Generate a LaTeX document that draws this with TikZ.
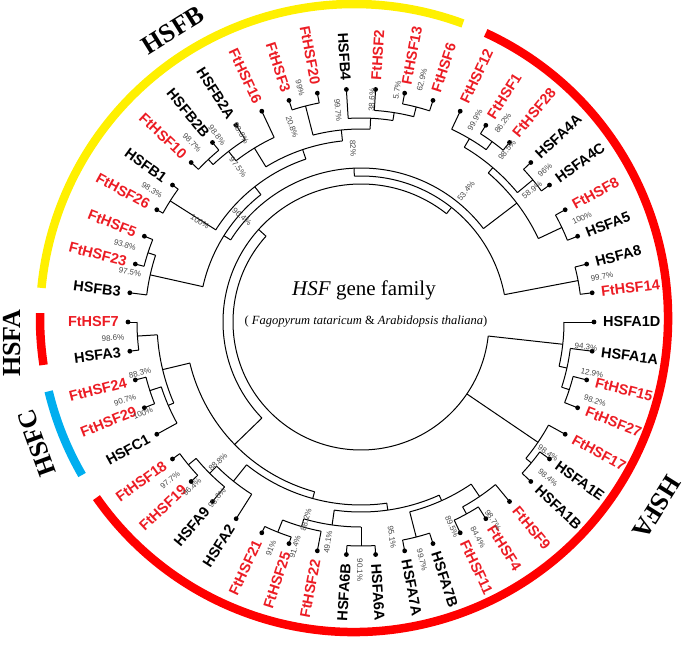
\documentclass[tikz,border=0pt]{standalone}
\usepackage{fontspec}
\setmainfont{Liberation Serif}
\newfontfamily\lsans{Liberation Sans}
\definecolor{ftred}{RGB}{236,28,36}
\definecolor{arcred}{RGB}{255,0,0}
\definecolor{arcyellow}{RGB}{255,240,0}
\definecolor{arcblue}{RGB}{0,174,239}
\tikzset{
  leaflab/.style={font=\lsans\bfseries\fontsize{14.5}{14.5}\selectfont, inner sep=1pt},
  bslab/.style={font=\lsans\fontsize{8}{8}\selectfont, text=black!72, inner sep=0pt},
  grplab/.style={font=\bfseries\fontsize{26}{26}\selectfont, inner sep=0pt},
  br/.style={line width=1pt, black},
  band/.style={line width=8.5pt},
}
% leaf: angle, parent radius, name, colour
\newcommand\lf[4]{%
  \draw[br] (#1:#2pt) -- (#1:233pt);
  \fill (#1:233pt) circle (2.4pt);
  \pgfmathsetmacro\myang{#1}%
  \ifdim\myang pt>90pt
    \ifdim\myang pt<270pt
      \node[leaflab,text=#4,anchor=east,rotate=\myang+180] at (#1:241pt) {#3};
    \else
      \node[leaflab,text=#4,anchor=west,rotate=\myang] at (#1:241pt) {#3};
    \fi
  \else
    \node[leaflab,text=#4,anchor=west,rotate=\myang] at (#1:241pt) {#3};
  \fi}
% node arc: radius, from angle, to angle
\newcommand\nd[3]{\draw[br] (#2:#1pt) arc[start angle=#2, end angle=#3, radius=#1pt];}
% radial branch: angle, r1, r2
\newcommand\rd[3]{\draw[br] (#1:#2pt) -- (#1:#3pt);}
% bootstrap label at image pixel position
\newcommand\bs[4]{\node[bslab,rotate=#3] at ({#1-361},{322-#2}) {#4};}
\begin{document}
\begin{tikzpicture}[x=1pt,y=1pt]
\useasboundingbox (-361,-323) rectangle (324,322);
% coloured bands
\begin{scope}[shift={(-7,4)}]
\draw[band,arcyellow] (69.7:314pt) arc[start angle=69.7, end angle=174.5, radius=314pt];
\draw[band,arcred] (65.2:314pt) arc[start angle=65.2, end angle=-145.1, radius=314pt];
\draw[band,arcred] (179.1:314pt) arc[start angle=179.1, end angle=188.6, radius=314pt];
\draw[band,arcblue] (193.5:314pt) arc[start angle=193.5, end angle=210, radius=314pt];
\end{scope}
\node[grplab,rotate=32] (gB) at (-188,292) {HSFB};
\node[grplab,rotate=90] (gA1) at (-349,-21) {HSFA};
\node[grplab,rotate=110] (gC) at (-324,-121) {HSFC};
\node[grplab,rotate=-122] (gA2) at (296,-185) {HSFA};
% title
\node (t1) at (3,32) {\fontsize{21}{21}\selectfont\textit{HSF} gene family};
\node (t2) at (5,0) {\fontsize{12.5}{12.5}\selectfont ( \textit{Fagopyrum tataricum} \& \textit{Arabidopsis thaliana})};
% ---------- tree ----------
% root
\nd{128}{137.9}{353.7}
\rd{353.7}{128}{203} \nd{203}{360}{347.4}
\rd{347.4}{203}{211} \nd{211}{352.8}{342}
\rd{342}{211}{219} \nd{219}{345.6}{338.4}
\rd{325.8}{128}{214} \nd{214}{331.2}{320.4}
\rd{320.4}{214}{221} \nd{221}{324}{316.8}
% S
\rd{137.9}{128}{138} \nd{138}{51.7}{224.1}
% Q
\rd{51.7}{138}{146} \nd{146}{10.8}{92.6}
\rd{10.8}{146}{221} \nd{221}{7.2}{14.4}
% W
\rd{92.6}{146}{154} \nd{154}{37.35}{147.8}
\rd{37.35}{154}{196} \nd{196}{25.2}{49.5}
\rd{25.2}{196}{222} \nd{222}{21.6}{28.8}
\rd{49.5}{196}{203} \nd{203}{39.6}{59.4}
\rd{39.6}{203}{223} \nd{223}{36}{43.2}
\rd{59.4}{203}{213} \nd{213}{54}{64.8}
\rd{54}{213}{223} \nd{223}{50.4}{57.6}
% B clade
\rd{147.8}{154}{162} \nd{162}{128.15}{167.4}
\rd{128.15}{162}{172} \nd{172}{108.7}{147.6}
\rd{108.7}{172}{182} \nd{182}{95.85}{121.5}
\rd{95.85}{182}{193} \nd{193}{87.3}{104.4}
\rd{104.4}{193}{223} \nd{223}{100.8}{108}
\rd{87.3}{193}{204} \nd{204}{81}{93.6}
\rd{81}{204}{212} \nd{212}{75.6}{86.4}
\rd{75.6}{212}{222} \nd{222}{72}{79.2}
\rd{121.5}{182}{204} \nd{204}{115.2}{127.8}
\rd{127.8}{204}{216} \nd{216}{122.4}{133.2}
\rd{133.2}{216}{223} \nd{223}{129.6}{136.8}
\rd{147.6}{172}{226} \nd{226}{144}{151.2}
\rd{167.4}{162}{216} \nd{216}{162}{172.8}
\rd{162}{216}{224} \nd{224}{158.4}{165.6}
% R
\rd{224.1}{138}{176} \nd{176}{193.5}{254.7}
\rd{193.5}{176}{204} \nd{204}{183.6}{203.4}
\rd{183.6}{204}{224} \nd{224}{180}{187.2}
\rd{203.4}{204}{210} \nd{210}{198}{208.8}
\rd{198}{210}{222} \nd{222}{194.4}{201.6}
\rd{254.7}{176}{183} \nd{183}{231.3}{278.1}
\rd{231.3}{183}{204} \nd{204}{225}{237.6}
\rd{225}{204}{214} \nd{214}{219.6}{230.4}
\rd{219.6}{214}{224} \nd{224}{216}{223.2}
\rd{278.1}{183}{190} \nd{190}{261.9}{294.3}
\rd{261.9}{190}{205} \nd{205}{253.8}{270}
\rd{253.8}{205}{213} \nd{213}{248.4}{259.2}
\rd{248.4}{213}{226} \nd{226}{244.8}{252}
\rd{270}{205}{224} \nd{224}{266.4}{273.6}
\rd{294.3}{190}{196} \nd{196}{284.4}{304.2}
\rd{284.4}{196}{222} \nd{222}{280.8}{288}
\rd{304.2}{196}{211} \nd{211}{298.8}{309.6}
\rd{298.8}{211}{219} \nd{219}{295.2}{302.4}
% ---------- leaves ----------
\lf{0}{203}{HSFA1D}{black}
\lf{7.2}{221}{FtHSF14}{ftred}
\lf{14.4}{221}{HSFA8}{black}
\lf{21.6}{222}{HSFA5}{black}
\lf{28.8}{222}{FtHSF8}{ftred}
\lf{36}{223}{HSFA4C}{black}
\lf{43.2}{223}{HSFA4A}{black}
\lf{50.4}{223}{FtHSF28}{ftred}
\lf{57.6}{223}{FtHSF1}{ftred}
\lf{64.8}{213}{FtHSF12}{ftred}
\lf{72}{222}{FtHSF6}{ftred}
\lf{79.2}{222}{FtHSF13}{ftred}
\lf{86.4}{212}{FtHSF2}{ftred}
\lf{93.6}{204}{HSFB4}{black}
\lf{100.8}{223}{FtHSF20}{ftred}
\lf{108}{223}{FtHSF3}{ftred}
\lf{115.2}{204}{FtHSF16}{ftred}
\lf{122.4}{216}{HSFB2A}{black}
\lf{129.6}{223}{HSFB2B}{black}
\lf{136.8}{223}{FtHSF10}{ftred}
\lf{144}{226}{HSFB1}{black}
\lf{151.2}{226}{FtHSF26}{ftred}
\lf{158.4}{224}{FtHSF5}{ftred}
\lf{165.6}{224}{FtHSF23}{ftred}
\lf{172.8}{216}{HSFB3}{black}
\lf{180}{224}{FtHSF7}{ftred}
\lf{187.2}{224}{HSFA3}{black}
\lf{194.4}{222}{FtHSF24}{ftred}
\lf{201.6}{222}{FtHSF29}{ftred}
\lf{208.8}{210}{HSFC1}{black}
\lf{216}{224}{FtHSF18}{ftred}
\lf{223.2}{224}{FtHSF19}{ftred}
\lf{230.4}{214}{HSFA9}{black}
\lf{237.6}{204}{HSFA2}{black}
\lf{244.8}{226}{FtHSF21}{ftred}
\lf{252}{226}{FtHSF25}{ftred}
\lf{259.2}{213}{FtHSF22}{ftred}
\lf{266.4}{224}{HSFA6B}{black}
\lf{273.6}{224}{HSFA6A}{black}
\lf{280.8}{222}{HSFA7A}{black}
\lf{288}{222}{HSFA7B}{black}
\lf{295.2}{219}{FtHSF11}{ftred}
\lf{302.4}{219}{FtHSF4}{ftred}
\lf{309.6}{211}{FtHSF9}{ftred}
\lf{316.8}{221}{HSFA1B}{black}
\lf{324}{221}{HSFA1E}{black}
\lf{331.2}{214}{FtHSF17}{ftred}
\lf{338.4}{219}{FtHSF27}{ftred}
\lf{345.6}{219}{FtHSF15}{ftred}
\lf{352.8}{211}{HSFA1A}{black}
% ---------- bootstrap values ----------
\bs{300}{88}{-75.4}{99\%}
\bs{338}{110}{-83.8}{99.7\%}
\bs{292}{127}{-70.5}{20.8\%}
\bs{241}{133}{-57.6}{98.8\%}
\bs{217}{135}{-52.4}{98.8\%}
\bs{192}{143}{-46.6}{98.7\%}
\bs{238}{167}{-51.6}{97.5\%}
\bs{152}{190}{-32.3}{98.3\%}
\bs{200}{222}{-31.8}{100\%}
\bs{242}{217}{-41.4}{96.4\%}
\bs{125}{245}{-18}{93.8\%}
\bs{130}{272}{-12.2}{97.5\%}
\bs{113}{338}{3.7}{98.6\%}
\bs{140}{373}{13}{88.3\%}
\bs{125}{400}{18.3}{90.7\%}
\bs{143}{413}{22.7}{100\%}
\bs{170}{480}{39.6}{97.7\%}
\bs{192}{487}{44.3}{96.4\%}
\bs{218}{462}{44.4}{88.8\%}
\bs{217}{498}{50.7}{93.6\%}
\bs{271}{548}{68.3}{91\%}
\bs{295}{547}{73.7}{91.4\%}
\bs{306}{520}{74.5}{88.2\%}
\bs{328}{542}{81.5}{49.1\%}
\bs{360}{570}{-90}{90.1\%}
\bs{392}{537}{-81.8}{95.1\%}
\bs{422}{560}{-75.6}{99.7\%}
\bs{452}{527}{-66.1}{89.5\%}
\bs{478}{537}{-61.4}{84.4\%}
\bs{493}{520}{-56.3}{98.7\%}
\bs{548}{453}{-35}{98.4\%}
\bs{548}{478}{-39.8}{98.4\%}
\bs{595}{401}{-18.6}{98.2\%}
\bs{592}{373}{-12.5}{12.9\%}
\bs{586}{347}{-6.3}{94.3\%}
\bs{602}{277}{10.6}{99.7\%}
\bs{582}{218}{25.2}{100\%}
\bs{532}{190}{37.7}{58.9\%}
\bs{545}{170}{39.6}{96\%}
\bs{507}{150}{49.7}{98.5\%}
\bs{503}{123}{54.5}{86.2\%}
\bs{475}{120}{60.6}{99.9\%}
\bs{466}{191}{51.3}{53.4\%}
\bs{422}{80}{75.9}{62.9\%}
\bs{397}{90}{81.2}{5.7\%}
\bs{372}{100}{87.2}{38.6\%}
\bs{353}{148}{-87.4}{82\%}
\end{tikzpicture}
\end{document}
